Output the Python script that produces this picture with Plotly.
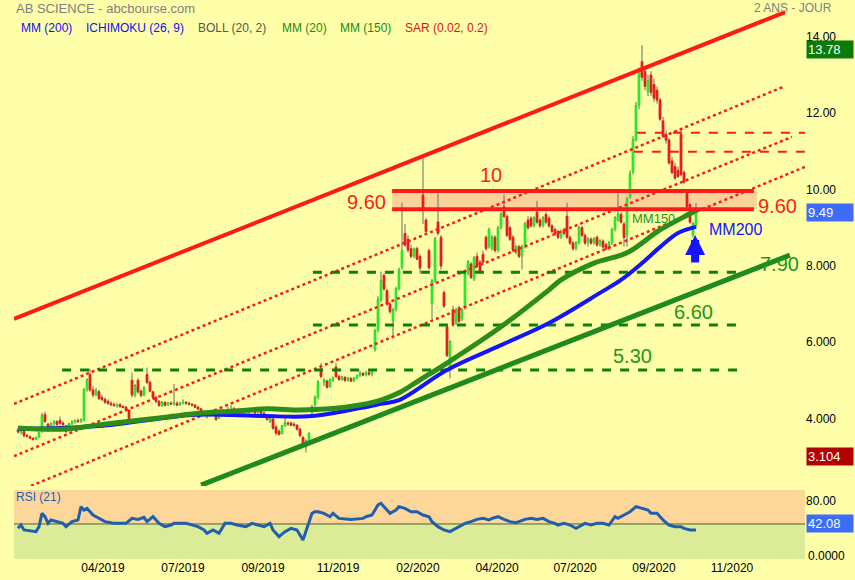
import plotly.graph_objects as go

# ---------------- data (one candle per session index) ----------------
opens = [3.70,3.63,3.66,3.55,3.52,3.48,3.45,3.50,3.65,4.10,3.85,3.72,3.86,3.92,3.95,3.88,3.80,3.68,3.86,3.90,3.94,3.92,3.95,4.75,5.15,4.75,4.62,4.70,4.55,4.50,4.45,4.40,4.36,4.33,4.36,4.31,4.30,4.22,
         5.00,4.60,5.00,4.72,4.60,5.15,4.95,4.70,4.55,4.45,4.33,4.42,4.35,4.40,4.38,4.40,4.35,4.40,4.42,4.40,4.37,4.35,4.30,4.25,4.18,4.02,4.08,4.10,4.05,4.00,4.08,4.10,4.12,
         4.22,4.26,4.22,4.20,4.19,4.16,4.21,4.17,4.22,4.15,4.19,4.14,4.08,3.92,3.98,3.78,3.66,3.60,3.80,3.88,3.88,3.85,3.82,3.72,3.50,3.25,3.42,
         4.15,4.35,4.55,5.30,4.95,4.98,4.82,5.00,5.35,5.10,5.02,5.08,5.00,5.05,4.98,5.05,5.12,5.18,5.14,5.20,5.16,
         5.80,6.30,7.10,7.75,7.35,7.00,6.55,6.85,7.40,7.95,8.85,8.70,8.45,8.25,8.45,8.25,9.85,9.20,8.40,7.00,7.60,9.15,8.75,7.30,6.40,5.35,6.85,6.50,6.90,6.60,6.90,7.80,8.05,
         7.65,8.25,8.10,8.30,8.75,8.50,8.45,8.75,8.40,9.00,9.55,9.30,9.00,8.75,8.35,8.50,8.25,8.50,9.20,9.25,9.05,9.40,9.20,9.05,9.35,9.25,9.05,8.95,8.90,8.75,8.95,9.30,8.75,8.60,
         8.45,8.60,9.00,8.80,8.60,8.70,8.60,8.75,8.55,8.65,8.55,8.45,8.60,8.95,9.20,9.35,9.10,8.80,9.80,10.45,11.30,12.20,13.35,13.10,12.55,13.00,12.75,12.60,12.35,11.80,11.45,11.30,10.75,10.60,10.50,11.45,10.45,9.90,9.60,8.80,9.05]
highs = [3.75,3.72,3.68,3.60,3.55,3.50,3.52,3.66,4.15,4.18,3.88,3.90,3.95,3.95,4.05,3.92,3.82,3.88,3.95,3.98,4.00,4.00,4.80,5.05,5.30,4.85,4.80,4.75,4.62,4.55,4.50,4.45,4.42,4.40,4.40,4.35,4.32,4.24,
         5.20,4.90,5.05,4.75,4.85,5.33,4.98,4.72,4.60,4.48,4.45,4.45,4.42,4.45,4.90,4.45,4.42,4.50,4.46,4.44,4.40,4.38,4.32,4.28,4.20,4.08,4.14,4.15,4.08,4.10,4.14,4.16,4.30,
         4.35,4.30,4.26,4.25,4.22,4.24,4.24,4.26,4.24,4.22,4.22,4.18,4.10,4.02,4.05,3.82,3.72,3.82,4.02,3.92,3.92,3.90,3.85,3.75,3.55,3.45,3.65,
         4.35,4.60,5.00,5.45,5.05,5.02,5.05,5.10,5.45,5.15,5.12,5.10,5.08,5.08,5.08,5.15,5.25,5.22,5.25,5.28,5.25,
         6.35,7.20,7.85,7.80,7.40,7.05,6.90,7.45,7.95,9.65,9.10,8.80,8.55,8.48,8.50,8.30,10.90,9.25,8.45,7.65,8.75,9.90,8.80,7.35,6.45,6.05,6.95,6.90,6.95,6.90,7.85,8.15,8.10,
         8.25,8.35,8.15,8.40,8.80,9.00,8.80,8.80,9.05,9.40,9.87,9.35,9.05,8.80,8.55,8.55,8.55,9.15,9.30,9.30,9.30,9.70,9.25,9.30,9.40,9.30,9.10,9.00,8.95,8.95,9.00,9.65,8.80,8.65,
         8.65,9.05,9.05,8.85,8.75,8.75,8.75,8.80,8.70,8.70,8.60,8.65,9.00,9.30,9.90,9.40,9.15,9.80,10.50,11.40,12.30,13.20,13.78,13.25,13.00,13.10,12.90,12.70,12.40,11.90,11.55,11.35,10.85,10.70,10.60,11.60,10.50,10.00,9.65,9.15,9.65]
lows = [3.60,3.58,3.50,3.50,3.45,3.42,3.43,3.48,3.62,3.88,3.65,3.70,3.80,3.80,3.82,3.80,3.62,3.66,3.82,3.86,3.88,3.88,3.92,4.70,4.70,4.55,4.58,4.48,4.45,4.38,4.35,4.33,4.30,4.28,4.28,4.26,4.18,3.96,
        4.55,4.55,4.65,4.55,4.58,4.90,4.68,4.50,4.40,4.30,4.30,4.32,4.33,4.35,4.33,4.32,4.33,4.36,4.36,4.34,4.32,4.28,4.22,4.16,4.10,4.00,4.05,4.06,3.94,3.98,4.05,4.06,4.10,
        4.18,4.18,4.15,4.15,4.12,4.14,4.14,4.15,4.12,4.12,4.12,4.05,3.94,3.88,3.70,3.55,3.55,3.58,3.78,3.80,3.80,3.78,3.68,3.50,3.25,3.104,3.40,
        4.10,4.30,4.50,5.05,4.85,4.78,4.80,4.95,5.05,4.98,4.98,4.95,4.96,4.95,4.95,5.02,5.08,5.10,5.10,5.12,5.10,
        5.75,6.25,7.05,7.35,6.95,6.75,6.10,6.80,7.35,7.90,8.50,8.35,8.20,8.20,8.15,7.80,9.10,8.85,7.90,6.60,7.55,8.80,7.90,6.90,5.60,5.05,6.40,6.45,6.50,6.55,6.85,7.75,7.65,
        7.60,7.95,7.80,8.05,8.40,8.45,8.40,8.35,8.35,8.95,9.25,8.75,8.65,8.35,8.30,8.20,7.90,8.45,8.95,9.00,9.00,9.10,9.00,9.00,9.10,9.00,8.85,8.80,8.70,8.70,8.80,8.70,8.55,8.40,
        8.40,8.55,8.75,8.55,8.50,8.55,8.55,8.50,8.50,8.45,8.40,8.40,8.55,8.90,9.15,9.10,8.50,8.50,9.75,10.40,11.25,12.10,12.85,12.60,12.45,12.45,12.30,12.25,11.80,11.35,11.20,10.65,10.40,10.25,10.30,10.35,10.15,9.50,9.10,8.75,9.00]
closes = [3.65,3.68,3.55,3.53,3.48,3.45,3.50,3.63,4.08,3.92,3.70,3.86,3.90,3.84,3.88,3.84,3.66,3.86,3.90,3.94,3.92,3.96,4.75,5.00,4.75,4.62,4.72,4.52,4.50,4.43,4.40,4.36,4.34,4.36,4.31,4.29,4.22,4.00,
          4.62,4.85,4.70,4.60,4.80,4.95,4.72,4.55,4.45,4.35,4.42,4.35,4.40,4.38,4.40,4.35,4.40,4.42,4.40,4.37,4.35,4.30,4.25,4.18,4.12,4.06,4.10,4.12,3.97,4.08,4.10,4.12,4.22,
          4.26,4.22,4.20,4.19,4.16,4.21,4.17,4.22,4.15,4.19,4.14,4.08,3.98,3.98,3.75,3.62,3.58,3.80,3.88,3.86,3.82,3.82,3.72,3.55,3.30,3.40,3.60,
          4.30,4.55,4.95,5.10,5.00,4.82,5.00,5.05,5.10,5.02,5.08,5.00,5.05,4.98,5.05,5.12,5.18,5.14,5.20,5.16,5.20,
          6.30,7.10,7.60,7.40,7.00,6.80,6.85,7.40,7.90,8.40,8.55,8.42,8.25,8.45,8.18,7.95,9.45,8.90,7.95,7.60,8.70,8.85,8.00,6.95,5.65,6.00,6.45,6.85,6.55,6.85,7.80,8.10,7.70,
          8.20,8.00,7.85,8.10,8.45,8.95,8.75,8.40,9.00,9.35,9.30,8.80,8.70,8.40,8.50,8.25,8.50,9.10,9.00,9.05,9.25,9.15,9.05,9.25,9.15,9.05,8.90,8.85,8.75,8.90,8.85,8.75,8.60,8.45,
          8.60,9.00,8.80,8.60,8.70,8.60,8.70,8.55,8.65,8.50,8.45,8.60,8.95,9.25,9.35,9.15,8.75,9.75,10.40,11.30,12.20,13.10,12.95,12.70,12.85,12.55,12.40,12.35,11.85,11.40,11.30,10.70,10.45,10.30,10.35,10.40,10.20,9.55,9.15,9.10,9.49]
days = list(range(len(closes)))

mm150_days = [0, 8, 16, 27, 38, 50, 61, 72, 83, 94, 104, 114, 121, 127, 134, 143, 161, 177, 181, 192, 203, 214, 225, 226]
mm150 = [3.75, 3.72, 3.72, 3.83, 3.93, 4.04, 4.14, 4.19, 4.25, 4.22, 4.25, 4.35, 4.48, 4.67, 5.01, 5.45, 6.40, 7.37, 7.63, 8.07, 8.34, 8.94, 9.41, 9.46]
mm200_days = [0, 27, 58, 71, 83, 98, 114, 121, 127, 143, 161, 177, 194, 201, 208, 214, 220, 226]
mm200 = [3.72, 3.80, 4.09, 4.09, 4.06, 4.06, 4.27, 4.38, 4.48, 5.27, 5.92, 6.50, 7.29, 7.63, 8.07, 8.49, 8.86, 9.02]

rsi_days = [0,1,2,4,6,7,8,9,10,11,13,15,16,18,20,21,22,23,25,27,29,31,32,36,38,40,42,43,45,47,49,51,52,56,58,60,62,63,65,67,
            69,71,73,76,78,80,82,84,85,87,89,91,93,95,96,98,99,100,102,104,105,107,111,115,116,118,120,121,122,124,126,127,129,131,133,
            135,137,138,140,142,144,146,147,149,151,153,155,157,158,160,162,164,166,168,169,171,173,175,177,179,180,182,184,186,188,189,
            191,193,195,197,199,200,202,204,206,208,210,211,213,215,217,219,221,222,224,226]
rsi = [44.3,48.6,42.2,41.3,40.0,46.5,63.9,59.5,50.8,55.2,53.0,50.8,46.5,53.0,55.2,72.6,68.2,70.4,61.7,57.3,53.0,51.6,50.8,50.8,57.3,56.0,58.7,53.0,59.5,50.8,
       46.5,48.6,50.8,50.8,48.6,46.5,42.2,37.9,42.2,37.9,50.8,50.8,48.6,46.5,50.8,48.6,46.5,50.8,42.2,33.5,40.0,44.3,42.2,29.2,40.0,63.9,66.0,66.0,63.9,59.5,
       63.9,57.3,56.0,57.3,59.5,61.7,74.8,76.9,72.6,63.9,68.2,72.6,70.4,66.0,66.0,61.7,59.5,53.0,46.5,42.2,40.0,44.3,46.5,50.8,53.0,56.0,57.3,55.2,57.3,59.5,
       56.0,53.0,51.6,55.2,56.0,57.3,56.0,57.3,53.0,50.8,48.6,50.8,48.6,44.3,48.6,50.8,48.6,50.8,50.8,48.6,59.5,57.3,61.7,66.0,72.6,70.4,68.2,63.9,63.9,55.2,
       48.6,46.5,46.5,44.3,42.2,42.08]

date_tick_pos = [28.3, 55, 81.7, 106.7, 133.3, 159.7, 185.7, 212, 238]
date_tick_text = ["04/2019", "07/2019", "09/2019", "11/2019", "02/2020", "04/2020", "07/2020", "09/2020", "11/2020"]
price_ticks = [4, 6, 8, 10, 12, 14]
price_tick_text = ["4.000", "6.000", "8.000", "10.00", "12.00", "14.00"]

# hand-drawn analysis lines: (day0, price0, day1, price1)
upper_trend = (-1.33, 6.61, 255.7, 14.65)
lower_trend = (61.0, 2.25, 257.3, 8.28)
channel_lines = [(-1.33, 4.38, 255.7, 12.71), (-1.33, 3.01, 258.0, 11.38), (4.33, 2.23, 262.3, 10.59)]
resist_band = (124.7, 245.3, 9.48, 9.96)          # day0, day1, low, high
red_dashed = [(206.3, 11.49), (205.3, 10.99)]      # start day, level
green_dashed = [(98.3, 7.83), (98.3, 6.45), (14.7, 5.27)]
green_dashed_end = 242.3
last_price, max_price, min_price, last_rsi = 9.49, 13.78, 3.104, 42.08

# ---------------- figure ----------------
BG = "#ffffaa"
FONT = "Liberation Sans, Arial, sans-serif"
RED = "#ff1a1a"
GREEN_T = "#1e961e"
XR = [-1.333, 262.333]
YR = [2.228, 14.967]
RR = [4.3, 94.3]

fig = go.Figure()

# wicks
fig.add_trace(go.Candlestick(
    x=days, open=closes, close=closes, high=highs, low=lows,
    increasing=dict(line=dict(color="#6a6a6a", width=1), fillcolor="#6a6a6a"),
    decreasing=dict(line=dict(color="#6a6a6a", width=1), fillcolor="#6a6a6a"),
    whiskerwidth=0, hoverinfo="skip", xaxis="x", yaxis="y"))
# bodies
body_hi = [max(o, c) for o, c in zip(opens, closes)]
body_lo = [min(o, c) for o, c in zip(opens, closes)]
fig.add_trace(go.Candlestick(
    x=days, open=opens, close=closes, high=body_hi, low=body_lo,
    increasing=dict(line=dict(color="#2ee62e", width=0.8), fillcolor="#2ee62e"),
    decreasing=dict(line=dict(color="#e51e1e", width=0.8), fillcolor="#e51e1e"),
    whiskerwidth=0, hoverinfo="skip", xaxis="x", yaxis="y"))

def seg(x0, y0, x1, y1, color, width, dash="solid"):
    fig.add_trace(go.Scatter(x=[x0, x1], y=[y0, y1], mode="lines",
                             line=dict(color=color, width=width, dash=dash),
                             hoverinfo="skip", xaxis="x", yaxis="y"))

for (a, b, c, d) in channel_lines:
    seg(a, b, c, d, RED, 2.5, "dot")
seg(*upper_trend, RED, 4)
for start, lvl in red_dashed:
    seg(start, lvl, XR[1] + 2, lvl, RED, 2, "dash")
for start, lvl in green_dashed:
    seg(start, lvl, green_dashed_end, lvl, "#0b800b", 3, "dash")
seg(*lower_trend, "#1f8a1f", 5)

fig.add_trace(go.Scatter(x=mm200_days, y=mm200, mode="lines", line=dict(color="#1414ff", width=4, shape="spline"),
                         hoverinfo="skip", xaxis="x", yaxis="y"))
fig.add_trace(go.Scatter(x=mm150_days, y=mm150, mode="lines", line=dict(color="#2c8c1c", width=5, shape="spline"),
                         hoverinfo="skip", xaxis="x", yaxis="y"))

d0, d1, lo, hi = resist_band
seg(d0, hi, d1, hi, RED, 4)
seg(d0, lo, d1, lo, RED, 4)

fig.add_trace(go.Scatter(x=rsi_days, y=rsi, mode="lines", line=dict(color="#1f5fae", width=3),
                         hoverinfo="skip", xaxis="x2", yaxis="y2"))

shapes = [
    dict(type="rect", xref="x", yref="y", x0=d0, x1=d1 + 1, y0=lo, y1=hi,
         fillcolor="#fbd39a", line=dict(width=0), layer="below"),
    dict(type="rect", xref="x2 domain", yref="y2", x0=0, x1=1, y0=50, y1=RR[1],
         fillcolor="#fdd699", line=dict(width=0), layer="below"),
    dict(type="rect", xref="x2 domain", yref="y2", x0=0, x1=1, y0=RR[0], y1=50,
         fillcolor="#dbeb98", line=dict(width=0), layer="below"),
    dict(type="line", xref="x2 domain", yref="y2", x0=0, x1=1, y0=50, y1=50,
         line=dict(color="#4e6030", width=1), layer="below"),
]

def txt(x, y, s, color, size, xref="x", yref="y", xanchor="center", **kw):
    return dict(x=x, y=y, xref=xref, yref=yref, text=s, showarrow=False,
                font=dict(family=FONT, size=size, color=color), xanchor=xanchor, yanchor="middle", **kw)

ann = [
    txt(157.7, 10.38, "10", RED, 20),
    txt(116.0, 9.67, "9.60", RED, 20),
    txt(253.2, 9.57, "9.60", RED, 20),
    txt(253.7, 8.05, "7.90", GREEN_T, 20),
    txt(225.0, 6.79, "6.60", GREEN_T, 20),
    txt(204.7, 5.64, "5.30", GREEN_T, 20),
    txt(211.8, 9.25, "MM150", GREEN_T, 13),
    txt(239.2, 8.95, "MM200", "#1414ff", 16),
    dict(x=225.7, y=8.81, xref="x", yref="y", text="", showarrow=True, ax=0, ay=29,
         arrowcolor="#1414ff", arrowwidth=8, arrowhead=2, arrowsize=0.5),
    txt(0, 0.985, "AB SCIENCE - abcbourse.com", "#808080", 13, xref="paper", yref="paper", xanchor="left"),
    txt(1.037, 0.985, "2 ANS - JOUR", "#808080", 12, xref="paper", yref="paper", xanchor="right"),
    txt(0.0, 0.1109, "RSI (21)", "#1f5fae", 12, xref="paper", yref="paper", xanchor="left"),
    txt(1, 0.005, "0.0000", "#000000", 12, xref="paper", yref="paper", xanchor="left", xshift=1),
]
legend_items = [("MM (200)", "#1010ee", 0.0063), ("ICHIMOKU (26, 9)", "#1010ee", 0.0885),
                ("BOLL (20, 2)", "#555555", 0.2301), ("MM (20)", "#158c15", 0.3363),
                ("MM (150)", "#158c15", 0.4096), ("SAR (0.02, 0.2)", "#e01010", 0.4918)]
for s, col, xp in legend_items:
    ann.append(txt(xp, 0.9499, s, col, 12, xref="paper", yref="paper", xanchor="left"))

def vbox(y, s, bg, yref="y", yshift=-4):
    return dict(x=1, y=y, xref="paper", yref=yref, text=s, showarrow=False, xanchor="left", yanchor="middle",
                xshift=1, yshift=yshift, bgcolor=bg, width=44, align="left", borderpad=1,
                font=dict(family=FONT, size=13, color="white"))

ann += [vbox(max_price, "13.78", "#0a7a0a"), vbox(last_price, "9.49", "#3c6cf8"),
        vbox(min_price, "3.104", "#b00000"), vbox(50, "42.08", "#3c6cf8", yref="y2", yshift=0)]

fig.update_layout(
    width=855, height=580, margin=dict(l=14, r=50, t=0, b=21),
    paper_bgcolor=BG, plot_bgcolor=BG, showlegend=False,
    font=dict(family=FONT, size=12, color="black"),
    xaxis=dict(domain=[0, 1], anchor="y", range=XR, showticklabels=False, showgrid=False,
               zeroline=False, showline=False, ticks="", rangeslider=dict(visible=False)),
    xaxis2=dict(domain=[0, 1], anchor="y2", range=XR, matches="x", tickvals=date_tick_pos, ticktext=date_tick_text,
                showgrid=False, zeroline=False, showline=False, ticks="", tickfont=dict(size=12, color="black")),
    yaxis=dict(domain=[0.1306, 1], range=YR, side="right", tickvals=price_ticks, ticktext=price_tick_text,
               showgrid=False, zeroline=False, showline=False, ticks="", tickfont=dict(size=12, color="black")),
    yaxis2=dict(domain=[0, 0.1234], range=RR, side="right", tickvals=[80], ticktext=["80.00"],
                showgrid=False, zeroline=False, showline=False, ticks="", tickfont=dict(size=12, color="black")),
    shapes=shapes, annotations=ann, boxgap=0.05,
)

fig.write_html("out.html", config={"displayModeBar": False},
               post_script="document.body.style.margin='0px';document.body.style.overflow='hidden';")
